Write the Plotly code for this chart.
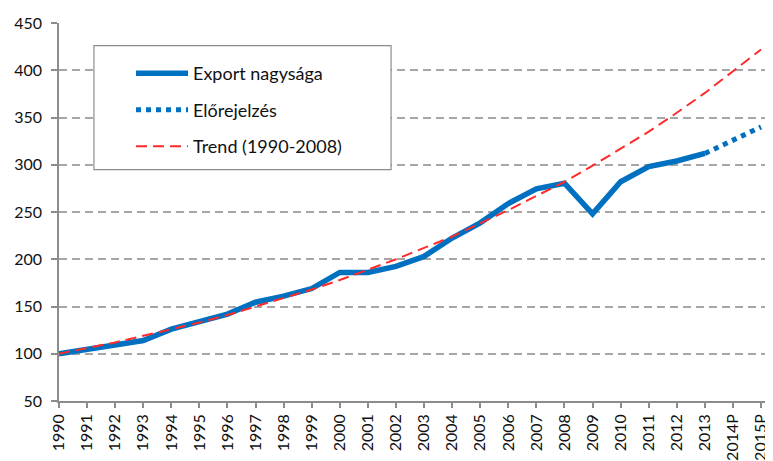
import plotly.graph_objects as go

categories = ["1990", "1991", "1992", "1993", "1994", "1995", "1996", "1997", "1998",
              "1999", "2000", "2001", "2002", "2003", "2004", "2005", "2006", "2007",
              "2008", "2009", "2010", "2011", "2012", "2013", "2014P", "2015P"]

export_values = [100, 104.5, 110, 114, 126, 134, 142, 154.5, 161, 169, 186, 186, 192.5,
                 203, 222.5, 238.5, 259, 274.5, 280.5, 248, 282, 298, 304, 312]

forecast_categories = ["2013", "2014P", "2015P"]
forecast_values = [312, 326, 340]

trend_values = [100, 106, 112, 119, 126, 133, 141, 150, 159, 168, 178, 189, 200, 212,
                224, 238, 252, 267, 282, 299, 317, 335, 355, 376, 399, 422]

y_ticks = [50, 100, 150, 200, 250, 300, 350, 400, 450]

idx = {c: i for i, c in enumerate(categories)}

BLUE = "#0070C0"
FONT = "Lato"
TXT = "#111111"

fig = go.Figure()
fig.add_trace(go.Scatter(
    x=[idx[c] for c in categories[:len(export_values)]], y=export_values,
    mode="lines", name="Export nagysága", legendgroup="a",
    line=dict(color=BLUE, width=5.5)))
fig.add_trace(go.Scatter(
    x=[idx[c] for c in forecast_categories], y=forecast_values,
    mode="lines", name="Előrejelzés", legendgroup="b",
    line=dict(color=BLUE, width=5, dash="dot")))
fig.add_trace(go.Scatter(
    x=[idx[c] for c in categories], y=trend_values,
    mode="lines", name="Trend (1990-2008)", legendgroup="c",
    line=dict(color="#FF2A2A", width=2, dash="11px,6px")))

# legend box
fig.add_shape(type="rect", xref="paper", yref="paper",
              x0=0.049, x1=0.4657, y0=0.612, y1=0.94,
              fillcolor="white", line=dict(color="#8C8C8C", width=1.2), layer="above")

fig.update_layout(
    width=765, height=453,
    margin=dict(l=51, r=1, t=15, b=60),
    paper_bgcolor="white", plot_bgcolor="white",
    font=dict(family=FONT, size=16, color=TXT),
    showlegend=True,
    legend=dict(x=0.101, y=0.915, xanchor="left", yanchor="top",
                bgcolor="rgba(0,0,0,0)", borderwidth=0,
                font=dict(family=FONT, size=18, color=TXT),
                traceorder="grouped", tracegroupgap=10, itemwidth=52),
    xaxis=dict(range=[0, 25.39], tickmode="array",
               tickvals=list(range(len(categories))), ticktext=categories,
               tickangle=-90, showgrid=False, zeroline=False,
               showline=True, linecolor="#8C8C8C", linewidth=1.5,
               ticks="outside", ticklen=5, tickcolor="#8C8C8C", tickwidth=1.5,
               tickfont=dict(family=FONT, size=16, color=TXT),
               automargin=False),
    yaxis=dict(range=[50, 450], tickvals=y_ticks, showgrid=True,
               gridcolor="#A6A6A6", gridwidth=1.5, griddash="8px,5px",
               zeroline=False, showline=True, linecolor="#8C8C8C", linewidth=1.5,
               ticks="outside", ticklen=6, tickcolor="#8C8C8C", tickwidth=1.5,
               ticklabelstandoff=6,
               tickfont=dict(family=FONT, size=16, color=TXT),
               automargin=False),
)

fig.write_html("out.html")
